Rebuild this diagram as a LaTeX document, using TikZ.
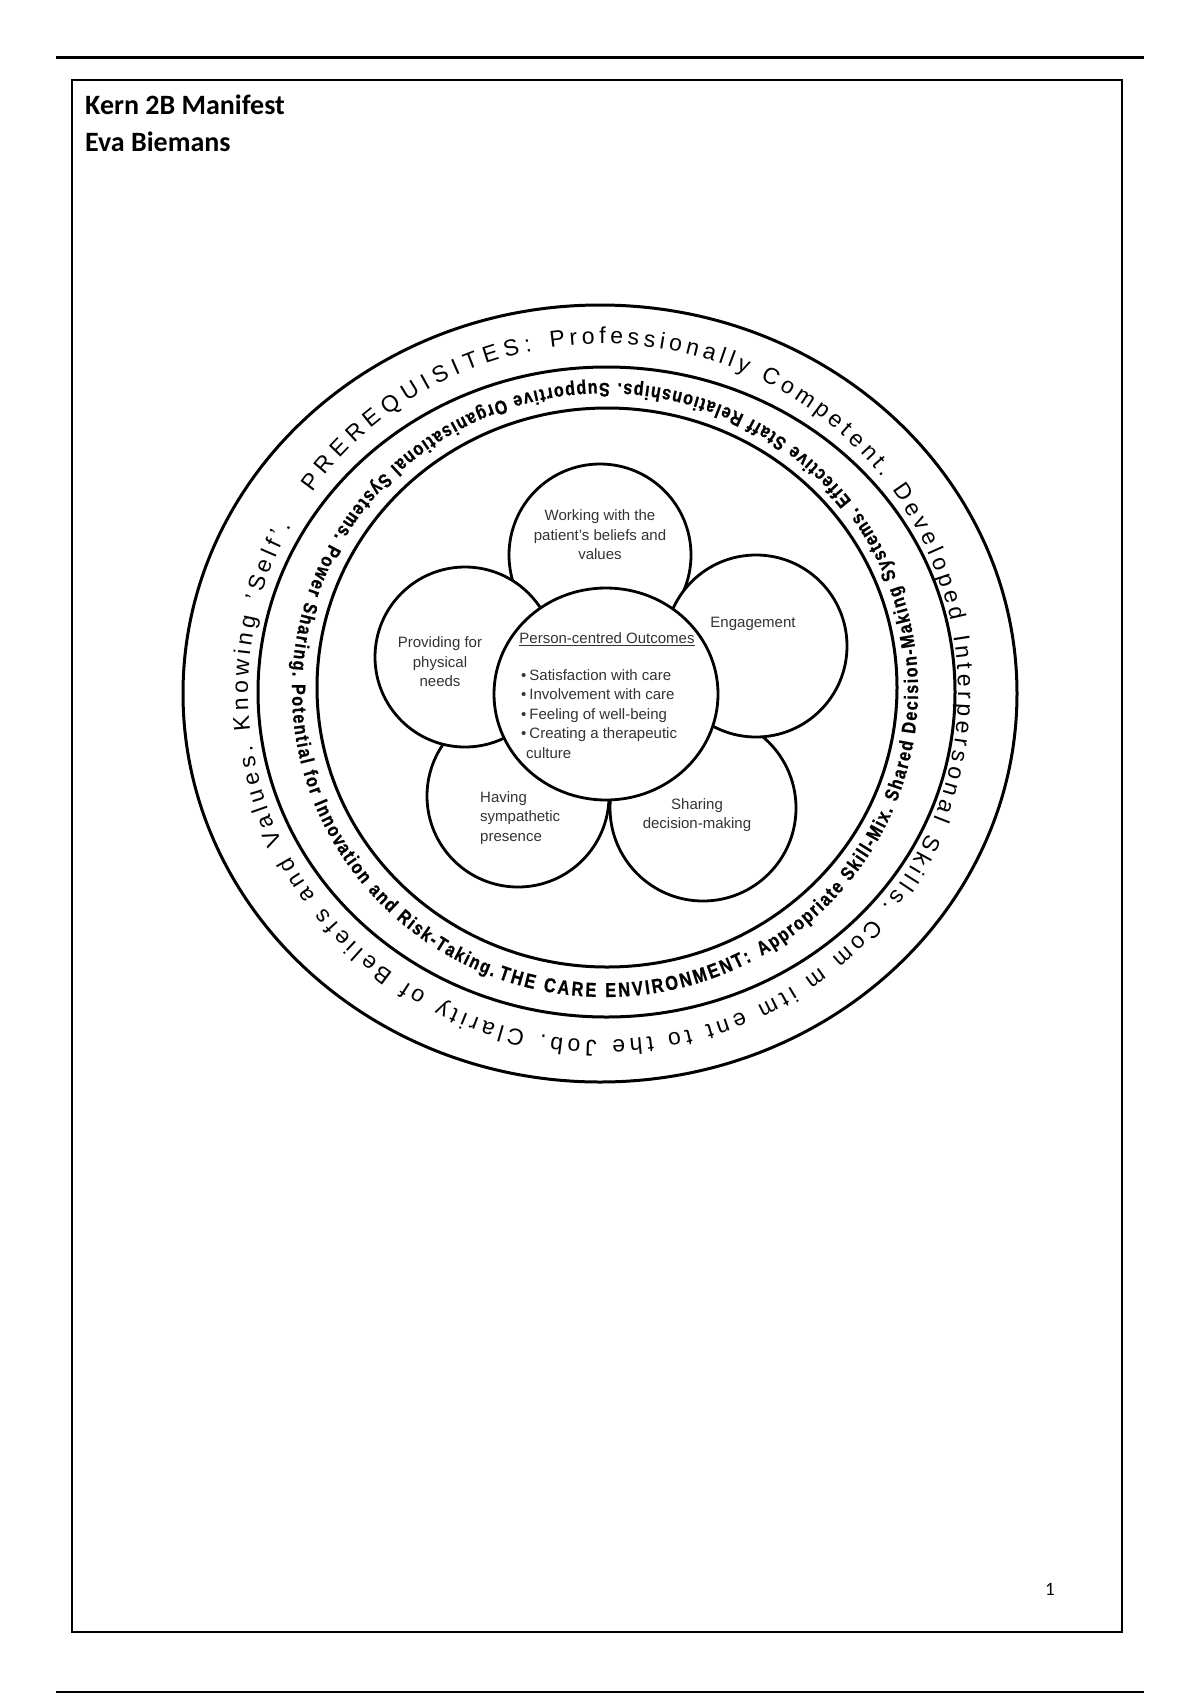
\documentclass[tikz,border=0pt]{standalone}
\usepackage{fontspec}
\setmainfont{Liberation Sans}
\newfontfamily\carlito{Carlito}
\newfontfamily\ringBfont{Liberation Sans}[FakeStretch=0.82, BoldFeatures={FakeBold=0.8}]
\usetikzlibrary{decorations.text,shapes.geometric}
\newcommand\ringouter{\fontsize{23}{27}\selectfont}
\newcommand\ringinner{\ringBfont\bfseries\fontsize{19.5}{21}\selectfont}
\newcommand\ringinnercaps{\ringBfont\bfseries\fontsize{20}{22}\selectfont}
\begin{document}
\begin{tikzpicture}[x=1pt,y=1pt,
  ring/.style={line width=3pt},
  petal/.style={circle, draw, line width=2.8pt, fill=white, inner sep=0pt},
  ptext/.style={font=\fontsize{15}{19.5}\selectfont, text=black!80, inner sep=0pt},
]
\fill[white] (0,0) rectangle (1200,-1700);
\useasboundingbox (0,0) rectangle (1200,-1700);
% page rules and frame
\draw[line width=2.6pt] (56,-57.5) -- (1144,-57.5);
\draw[line width=2.6pt] (56,-1692) -- (1144,-1692);
\draw[line width=2pt] (72,-80) rectangle (1122,-1632);
\node[anchor=base west, font=\carlito\bfseries\fontsize{28}{32}\selectfont, inner sep=0pt] (title) at (85,-114) {Kern 2B Manifest};
\node[anchor=base west, font=\carlito\bfseries\fontsize{28}{32}\selectfont, inner sep=0pt] (author) at (85,-151) {Eva Biemans};
\node[anchor=base, font=\carlito\fontsize{19}{22}\selectfont, inner sep=0pt] (pageno) at (1050,-1595) {1};

% rings
\draw[ring] (600,-693.5) ellipse [x radius=417pt, y radius=388.5pt];
\draw[ring] (606.5,-692) ellipse [x radius=348.5pt, y radius=325pt];
\draw[ring] (607,-687.5) ellipse [x radius=290pt, y radius=279.5pt];

% outer ring text (clockwise)
\path[decorate, decoration={text along path, text align=fit to path,
  text={|\ringouter|PREREQUISITES:}}]
  ([shift={(145:355 and 348)}]603,-692) arc[start angle=145, end angle=101.5, x radius=355pt, y radius=348pt];
\path[decorate, decoration={text along path, text align=fit to path,
  text={|\ringouter|Professionally Competent. Developed Interpersonal Skills. Com m itm ent to the Job. Clarity of Beliefs and Values. Knowing 'Self'.}}]
  ([shift={(98.5:355 and 348)}]603,-692) arc[start angle=98.5, end angle=-208.5, x radius=355pt, y radius=348pt];

% inner ring text (counter-clockwise)
\path[decorate, decoration={text along path, text align=fit to path,
  text={|\ringinnercaps|THE CARE ENVIRONMENT:}}]
  ([shift={(250:313 and 307)}]605,-690) arc[start angle=250, end angle=298, x radius=313pt, y radius=307pt];
\path[decorate, decoration={text along path, text align=fit to path,
  text={|\ringinner|Appropriate Skill-Mix. Shared Decision-Making Systems. Effective Staff Relationships. Supportive Organisational Systems. Power Sharing. Potential for Innovation and Risk-Taking.}}]
  ([shift={(300:313 and 307)}]605,-690) arc[start angle=300, end angle=609, x radius=313pt, y radius=307pt];

% flower
\node[petal, minimum size=182pt] (work) at (600,-555) {};
\node[petal, minimum size=182pt] (have) at (518,-796) {};
\node[petal, minimum size=186pt] (share) at (703,-808) {};
\node[petal, minimum size=182pt] (eng) at (756,-646) {};
\node[petal, minimum size=180pt] (prov) at (465,-657) {};
\node[ellipse, draw, line width=2.8pt, fill=white, inner sep=0pt, minimum width=224pt, minimum height=212pt] (core) at (606,-694) {};

\node[ptext, align=center] (workt) at (600,-535) {Working with the\\patient's beliefs and\\values};
\node[ptext] (engt) at (753,-624) {Engagement};
\node[ptext, align=center] (provt) at (440,-662) {Providing for\\physical\\needs};
\node[ptext, anchor=west, align=left] (havet) at (480,-818) {Having\\sympathetic\\presence};
\node[ptext, align=center] (sharet) at (697,-815) {Sharing\\decision-making};
\node[ptext] (coret) at (607,-639) {\underline{Person-centred Outcomes}};
\node[ptext, anchor=west, align=left] (corel) at (521,-714) {\textbullet\hspace{3pt}Satisfaction with care\\\textbullet\hspace{3pt}Involvement with care\\\textbullet\hspace{3pt}Feeling of well-being\\\textbullet\hspace{3pt}Creating a therapeutic\\\hspace*{5pt}culture};
\end{tikzpicture}
\end{document}
